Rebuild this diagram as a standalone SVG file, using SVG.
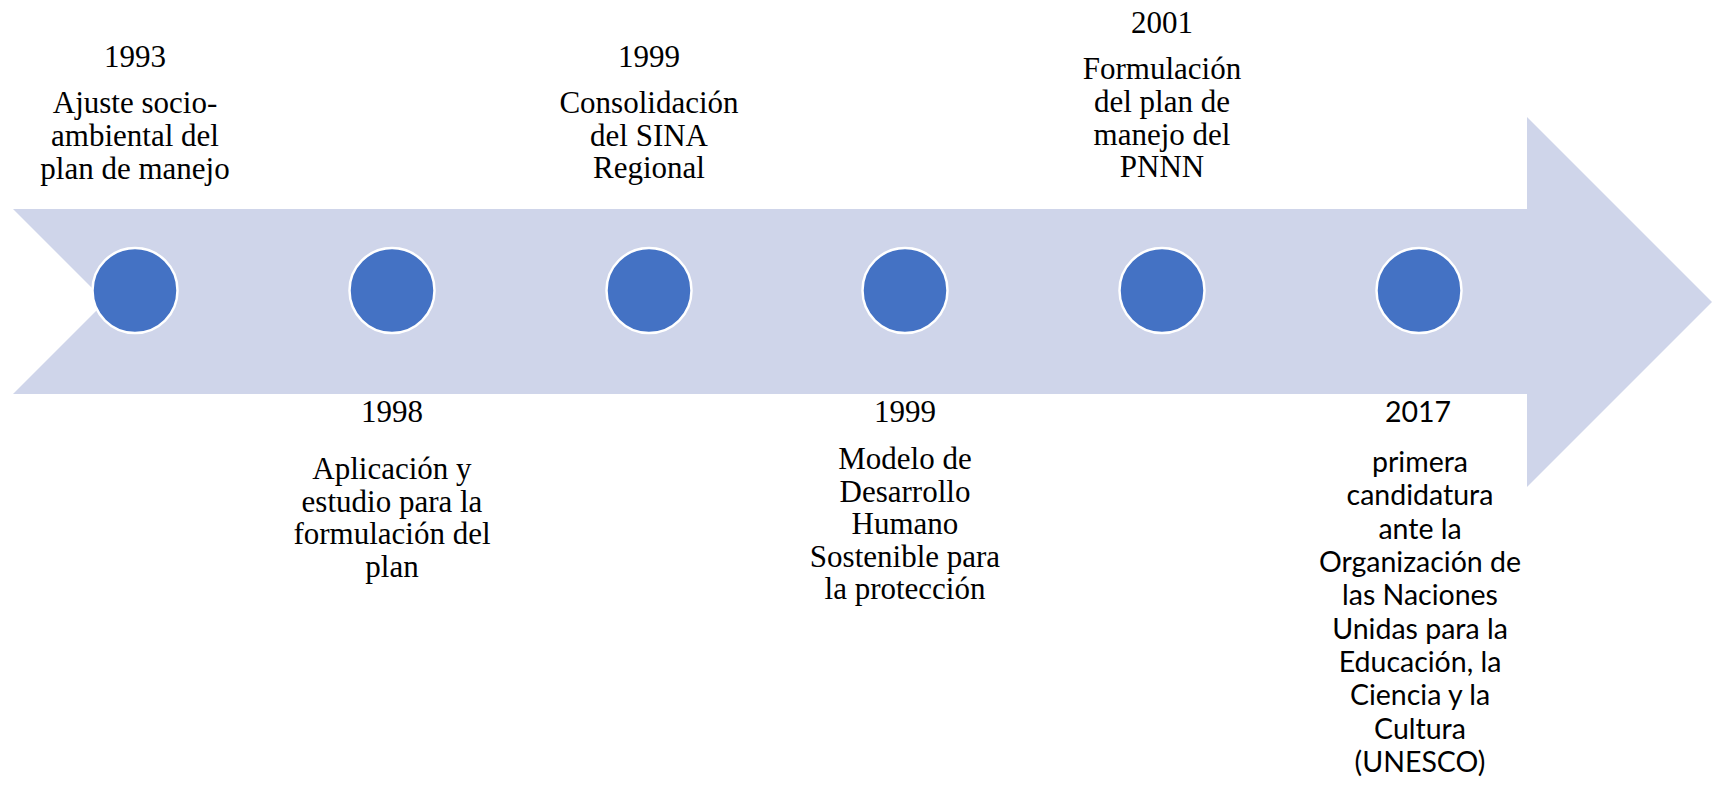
<svg xmlns="http://www.w3.org/2000/svg" width="1719" height="796" viewBox="0 0 1719 796">
<style>
  .arrow { fill: #CFD5EA; }
  .dot { fill: #4472C4; stroke: #FFFFFF; stroke-width: 2.5; }
  .t { font-family: "Liberation Serif", "Times New Roman", serif; font-size: 31px; fill: #000000; text-anchor: middle; }
  .c { font-family: Lato, "Open Sans", sans-serif; font-size: 28.5px; font-weight: 400; fill: #000000; text-anchor: middle; }
</style>
<rect width="1719" height="796" fill="#FFFFFF"/>
<g id="connectors">
  <polygon class="arrow" points="13,209 1527,209 1527,117 1712,302 1527,487 1527,394 13,394 105.5,301.5"/>
</g>
<g id="node1">
  <circle class="dot" cx="135" cy="290.5" r="42.5"/>
  <text class="t" x="135" y="67">1993</text>
  <text class="t" x="135" y="113">Ajuste socio-</text>
  <text class="t" x="135" y="146">ambiental del</text>
  <text class="t" x="135" y="179">plan de manejo</text>
</g>
<g id="node2">
  <circle class="dot" cx="392" cy="290.5" r="42.5"/>
  <text class="t" x="392" y="422">1998</text>
  <text class="t" x="392" y="479">Aplicación y</text>
  <text class="t" x="392" y="512">estudio para la</text>
  <text class="t" x="392" y="544">formulación del</text>
  <text class="t" x="392" y="577">plan</text>
</g>
<g id="node3">
  <circle class="dot" cx="649" cy="290.5" r="42.5"/>
  <text class="t" x="649" y="67">1999</text>
  <text class="t" x="649" y="113">Consolidación</text>
  <text class="t" x="649" y="146">del SINA</text>
  <text class="t" x="649" y="178">Regional</text>
</g>
<g id="node4">
  <circle class="dot" cx="905" cy="290.5" r="42.5"/>
  <text class="t" x="905" y="422">1999</text>
  <text class="t" x="905" y="469">Modelo de</text>
  <text class="t" x="905" y="502">Desarrollo</text>
  <text class="t" x="905" y="534">Humano</text>
  <text class="t" x="905" y="567">Sostenible para</text>
  <text class="t" x="905" y="599">la protección</text>
</g>
<g id="node5">
  <circle class="dot" cx="1162" cy="290.5" r="42.5"/>
  <text class="t" x="1162" y="33">2001</text>
  <text class="t" x="1162" y="79">Formulación</text>
  <text class="t" x="1162" y="112">del plan de</text>
  <text class="t" x="1162" y="145">manejo del</text>
  <text class="t" x="1162" y="177">PNNN</text>
</g>
<g id="node6">
  <circle class="dot" cx="1419" cy="290.5" r="42.5"/>
  <text class="c" x="1418" y="422">2017</text>
  <text class="c" x="1420" y="472">primera</text>
  <text class="c" x="1420" y="505">candidatura</text>
  <text class="c" x="1420" y="539">ante la</text>
  <text class="c" x="1420" y="572">Organización de</text>
  <text class="c" x="1420" y="605">las Naciones</text>
  <text class="c" x="1420" y="639">Unidas para la</text>
  <text class="c" x="1420" y="672">Educación, la</text>
  <text class="c" x="1420" y="705">Ciencia y la</text>
  <text class="c" x="1420" y="739">Cultura</text>
  <text class="c" x="1420" y="772">(UNESCO)</text>
</g>
</svg>
